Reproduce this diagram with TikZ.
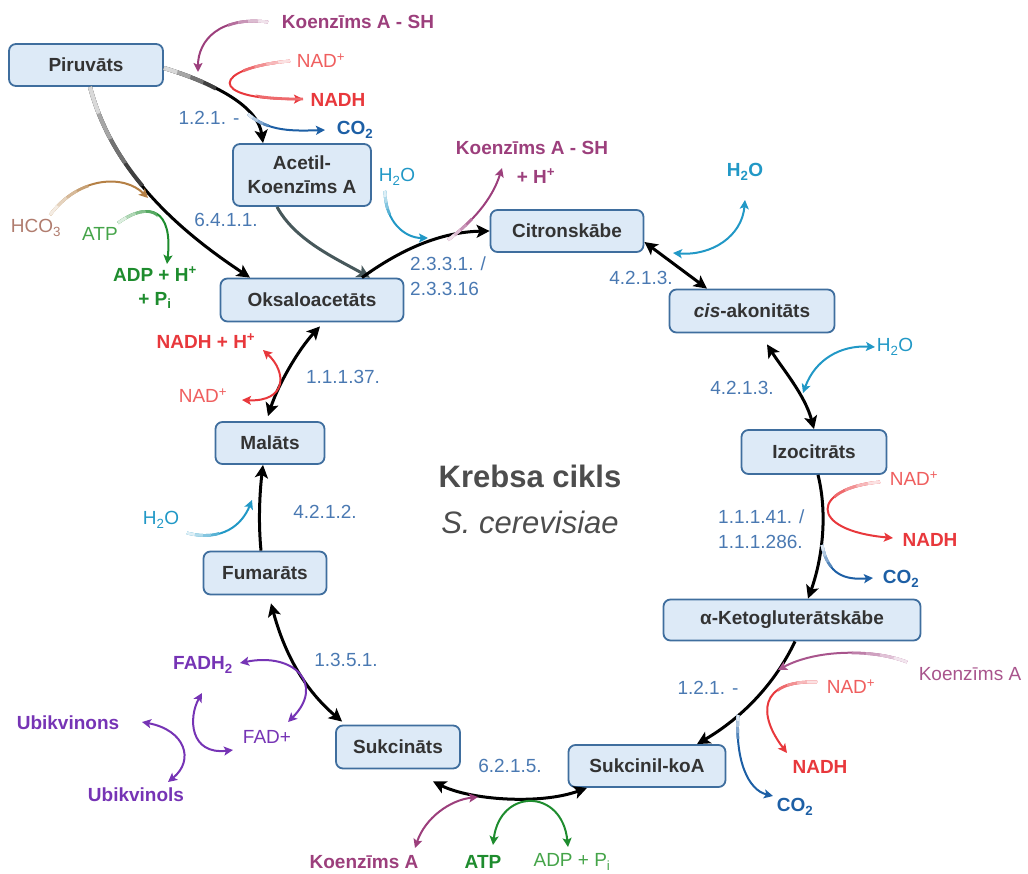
\documentclass[tikz,border=0pt]{standalone}
\usepackage{fontspec}
\setmainfont{Liberation Sans}
\usetikzlibrary{arrows.meta,calc}

\definecolor{boxfill}{HTML}{DDEAF7}
\definecolor{boxline}{HTML}{3F6E9E}
\definecolor{boxtext}{HTML}{333333}
\definecolor{enzblue}{HTML}{4A79B2}
\definecolor{titlegray}{HTML}{4D4D4D}
\definecolor{nadred}{HTML}{E8383C}
\definecolor{nadlight}{HTML}{EF5E5E}
\definecolor{co2blue}{HTML}{1D5FA5}
\definecolor{watercyan}{HTML}{2198C6}
\definecolor{coapurple}{HTML}{9C3F7C}
\definecolor{coalight}{HTML}{A8548C}
\definecolor{atpgreen}{HTML}{1E8C2E}
\definecolor{adpgreen}{HTML}{45A449}
\definecolor{hcobrown}{HTML}{B58045}
\definecolor{hcotext}{HTML}{B07C6E}
\definecolor{fadviolet}{HTML}{7634B5}
\definecolor{acetgray}{HTML}{47585B}

\newcommand\boxfont{\fontsize{19}{24}\selectfont\bfseries}
\newcommand\labfont{\fontsize{19}{25}\selectfont}
\newcommand\titlefont{\fontsize{31}{36}\selectfont}

% faded tail: style, colour, radius step, start, rest of path
\newcommand\fadedraw[5]{%
  \draw[#1, #2] #4 #5;
  \foreach \f [count=\i] in {75,55,35,15}{%
    \pgfmathsetmacro\rad{(5-\i)*#3}%
    \begin{scope}
      \clip #4 circle (\rad pt);
      \draw[#1fade, #2!\f] #4 #5;
    \end{scope}}}

\tikzset{
  met/.style={draw=boxline, fill=boxfill, line width=1.8pt, rounded corners=7pt,
    minimum height=42pt, inner sep=0pt, text=boxtext, font=\boxfont},
  enz/.style={text=enzblue, font=\labfont, inner sep=0pt},
  lab/.style={font=\labfont, inner sep=0pt},
  blab/.style={font=\boxfont, inner sep=0pt},
  main/.style={line width=3pt, -{Stealth[length=13pt,width=13pt,inset=3pt]}},
  mainfade/.style={line width=4pt},
  mainboth/.style={line width=3pt,
    {Stealth[length=13pt,width=13pt,inset=3pt]}-{Stealth[length=13pt,width=13pt,inset=3pt]}},
  side/.style={line width=2pt, -{Stealth[length=9pt,width=9pt,inset=2pt]}},
  sidefade/.style={line width=2.8pt},
  sideboth/.style={line width=2pt,
    {Stealth[length=9pt,width=9pt,inset=2pt]}-{Stealth[length=9pt,width=9pt,inset=2pt]}},
}

\begin{document}
\begin{tikzpicture}[x=1pt,y=-1pt]
\useasboundingbox (0,0) rectangle (1028,874);

% metabolites
\node[met, minimum width=154pt] (piru) at (86,65) {Piruvāts};
\node[met, minimum width=138pt, minimum height=62pt, align=center] (acetil) at (302,175) {Acetil-\\Koenzīms A};
\node[met, minimum width=183pt, minimum height=43pt] (oksalo) at (312,300) {Oksaloacetāts};
\node[met, minimum width=153pt] (citron) at (567,231) {Citronskābe};
\node[met, minimum width=165pt, minimum height=43pt] (cis) at (752,311) {\textit{cis}-akonitāts};
\node[met, minimum width=145pt, minimum height=44pt] (izo) at (814,452) {Izocitrāts};
\node[met, minimum width=257pt, minimum height=41pt] (keto) at (792,620) {α-Ketogluterātskābe};
\node[met, minimum width=157pt] (sukkoa) at (647,766) {Sukcinil-koA};
\node[met, minimum width=124pt, minimum height=43pt] (sukc) at (398,747) {Sukcināts};
\node[met, minimum width=123pt, minimum height=43pt] (fum) at (265,573) {Fumarāts};
\node[met, minimum width=109pt] (mal) at (270,443) {Malāts};

% title
\node[font=\titlefont\bfseries, text=titlegray, inner sep=0pt] (title) at (530,476) {Krebsa cikls};
\node[font=\titlefont\itshape, text=titlegray, inner sep=0pt] (species) at (530,522) {S. cerevisiae};

% enzymes
\node[enz] (ecA) at (209,118) {1.2.1. -};
\node[enz] (ecB) at (226,220) {6.4.1.1.};
\node[enz, align=left, anchor=west] (ecC) at (410,276) {2.3.3.1. /\\2.3.3.16};
\node[enz] (ecD) at (641,278) {4.2.1.3.};
\node[enz] (ecE) at (742,388) {4.2.1.3.};
\node[enz, align=left, anchor=west] (ecF) at (718,529) {1.1.1.41. /\\1.1.1.286.};
\node[enz] (ecG) at (708,688) {1.2.1. -};
\node[enz] (ecH) at (510,766) {6.2.1.5.};
\node[enz] (ecI) at (346,660) {1.3.5.1.};
\node[enz] (ecJ) at (325,512) {4.2.1.2.};
\node[enz] (ecK) at (343,377) {1.1.1.37.};

% co-substrates
\node[blab, text=coapurple] (coaA) at (358,22) {Koenzīms A - SH};
\node[lab, text=nadlight] (nadA) at (321,61) {NAD\textsuperscript{+}};
\node[blab, text=nadred] (nadhA) at (338,100) {NADH};
\node[blab, text=co2blue] (co2A) at (355,130) {CO\textsubscript{2}};
\node[lab, text=hcotext] (hco) at (36,228) {HCO\textsubscript{3}};
\node[lab, text=adpgreen] (atpA) at (100,234) {ATP};
\node[blab, text=atpgreen, align=center] (adpA) at (155,288) {ADP + H\textsuperscript{+}\\+ P\textsubscript{i}};
\node[lab, text=watercyan] (waterA) at (397,177) {H\textsubscript{2}O};
\node[blab, text=coapurple] (coaB) at (532,148) {Koenzīms A - SH};
\node[blab, text=coapurple] (coaBh) at (536,176) {+ H\textsuperscript{+}};
\node[blab, text=watercyan] (waterB) at (745,172) {H\textsubscript{2}O};
\node[lab, text=watercyan] (waterC) at (895,347) {H\textsubscript{2}O};
\node[lab, text=nadlight] (nadB) at (914,479) {NAD\textsuperscript{+}};
\node[blab, text=nadred] (nadhB) at (930,540) {NADH};
\node[blab, text=co2blue] (co2B) at (901,579) {CO\textsubscript{2}};
\node[lab, text=coalight] (coaC) at (970,674) {Koenzīms A};
\node[lab, text=nadlight] (nadC) at (851,687) {NAD\textsuperscript{+}};
\node[blab, text=nadred] (nadhC) at (820,767) {NADH};
\node[blab, text=co2blue] (co2C) at (795,807) {CO\textsubscript{2}};
\node[blab, text=coapurple] (coaD) at (364,862) {Koenzīms A};
\node[blab, text=atpgreen] (atpB) at (483,862) {ATP};
\node[lab, text=adpgreen] (adpB) at (572,862) {ADP + P\textsubscript{i}};
\node[blab, text=fadviolet] (fadh) at (203,665) {FADH\textsubscript{2}};
\node[lab, text=fadviolet] (fad) at (267,737) {FAD+};
\node[blab, text=fadviolet] (ubin) at (68,723) {Ubikvinons};
\node[blab, text=fadviolet] (ubil) at (136,795) {Ubikvinols};
\node[blab, text=nadred] (nadhD) at (206,341) {NADH + H\textsuperscript{+}};
\node[lab, text=nadlight] (nadD) at (203,396) {NAD\textsuperscript{+}};
\node[lab, text=watercyan] (waterD) at (161,520) {H\textsubscript{2}O};

% free ends on the cycle arrows
\coordinate (coaAin) at (198,72);
\coordinate (co2Aout) at (248,114);
\coordinate (hcoin) at (148,198);
\coordinate (waterAin) at (428,238);
\coordinate (coaBout) at (448,240);
\coordinate (waterBout) at (673,253);
\coordinate (waterCout) at (803,393);
\coordinate (co2Bout) at (822,545);
\coordinate (coaCin) at (778,670);
\coordinate (co2Cout) at (738,715);
\coordinate (coaDout) at (478,797);
\coordinate (waterDin) at (252,500);

% cycle
\fadedraw{main}{black}{14}{([yshift=-3pt]piru.east)}{.. controls (220,85) and (258,108) .. ([xshift=-39pt]acetil.north)}
\fadedraw{main}{black}{28}{([xshift=4pt]piru.south)}{.. controls (112,170) and (175,228) .. ([xshift=-62pt]oksalo.north)}
\draw[main, acetgray] ([xshift=-25pt]acetil.south) .. controls (295,240) and (335,258) .. ([xshift=58pt]oksalo.north);
\draw[main] ([xshift=50pt]oksalo.north) .. controls (400,250) and (440,232) .. (citron.west);
\draw[mainboth] ([yshift=-11pt]citron.east) -- ([xshift=-45pt]cis.north);
\draw[mainboth] ([xshift=15pt,yshift=-11pt]cis.south) .. controls (782,368) and (805,395) .. (izo.north);
\draw[main] ([xshift=4pt]izo.south) .. controls (828,515) and (822,560) .. ([xshift=16pt]keto.north);
\draw[main] ([xshift=3pt]keto.south) .. controls (772,690) and (735,722) .. ([xshift=50pt]sukkoa.north);
\draw[mainboth] ([xshift=-60pt]sukkoa.south) .. controls (540,805) and (470,800) .. ([xshift=35pt,yshift=-12pt]sukc.south);
\draw[mainboth] ([xshift=7pt,yshift=3pt]sukc.north west) .. controls (305,690) and (285,655) .. ([xshift=6pt,yshift=-8pt]fum.south);
\draw[main] ([xshift=-4pt]fum.north) .. controls (258,520) and (260,490) .. ([xshift=-7pt]mal.south);
\draw[mainboth] ([xshift=-2pt,yshift=5pt]mal.north) .. controls (278,385) and (298,350) .. ([xshift=8pt,yshift=-4pt]oksalo.south);

% piruvate side
\fadedraw{side}{coapurple}{10}{($(coaA)+(-90,0)$)}{.. controls (220,16) and (198,40) .. (coaAin)}
\fadedraw{side}{nadred}{12}{($(nadA)+(-31,0)$)}{.. controls (212,68) and (205,100) .. ($(nadhA)+(-35,-1)$)}
\fadedraw{side}{co2blue}{6}{(co2Aout)}{.. controls (268,132) and (295,131) .. ($(co2A)+(-30,0)$)}
\fadedraw{side}{hcobrown}{12}{($(hco)+(14,-13)$)}{.. controls (80,175) and (125,175) .. (hcoin)}
\fadedraw{side}{atpgreen}{10}{($(atpA)+(18,-11)$)}{.. controls (150,200) and (173,210) .. ($(adpA)+(12,-24)$)}

% citrate side
\fadedraw{side}{watercyan}{6}{($(waterA)+(-12,14)$)}{.. controls (385,222) and (405,238) .. (waterAin)}
\fadedraw{side}{coapurple}{8}{(coaBout)}{.. controls (472,222) and (492,200) .. ($(coaBh)+(-34,-8)$)}
\draw[sideboth, watercyan] (waterBout) .. controls (712,256) and (742,236) .. ($(waterB)+(0,28)$);
\draw[sideboth, watercyan] (waterCout) .. controls (815,360) and (840,345) .. ($(waterC)+(-20,0)$);

% decarboxylations
\fadedraw{side}{nadred}{12}{($(nadB)+(-34,3)$)}{.. controls (812,488) and (806,530) .. ($(nadhB)+(-37,-2)$)}
\fadedraw{side}{co2blue}{6}{(co2Bout)}{.. controls (828,575) and (845,580) .. ($(co2B)+(-28,-1)$)}
\fadedraw{side}{coalight}{14}{($(coaC)+(-63,-12)$)}{.. controls (870,648) and (815,650) .. (coaCin)}
\fadedraw{side}{nadred}{10}{($(nadC)+(-34,-5)$)}{.. controls (758,680) and (758,715) .. ($(nadhC)+(-33,-14)$)}
\fadedraw{side}{co2blue}{6}{(co2Cout)}{.. controls (735,760) and (748,790) .. ($(co2C)+(-22,-11)$)}

% succinyl-CoA side
\draw[sideboth, coapurple] ($(coaD)+(51,-14)$) .. controls (425,818) and (450,800) .. (coaDout);
\draw[sideboth, atpgreen] ($(atpB)+(10,-17)$) .. controls (500,788) and (562,788) .. ($(adpB)+(-4,-15)$);

% FAD / ubiquinone
\draw[sideboth, fadviolet] ($(fadh)+(37,-2)$) .. controls (295,652) and (325,685) .. ($(fad)+(21,-15)$);
\draw[sideboth, fadviolet] ($(fadh)+(-1,28)$) .. controls (188,718) and (190,755) .. ($(fad)+(-34,13)$);
\draw[sideboth, fadviolet] ($(ubin)+(74,-1)$) .. controls (185,730) and (195,760) .. ($(ubil)+(32,-13)$);

% malate side
\draw[sideboth, nadred] ($(nadhD)+(57,9)$) .. controls (287,372) and (287,402) .. ($(nadD)+(39,4)$);
\fadedraw{side}{watercyan}{8}{($(waterD)+(26,13)$)}{.. controls (222,542) and (242,525) .. (waterDin)}
\end{tikzpicture}
\end{document}
